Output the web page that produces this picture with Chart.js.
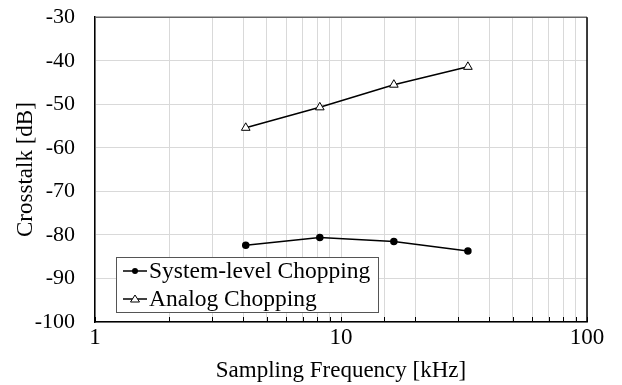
<!DOCTYPE html>
<html>
<head>
<meta charset="utf-8">
<script src="https://cdn.jsdelivr.net/npm/chart.js@4"></script>
<style>
  html, body { margin: 0; padding: 0; background: #fff; }
  #wrap { width: 622px; height: 385px; }
</style>
</head>
<body>
<div id="wrap"><canvas id="crosstalkChart"></canvas></div>
<script>
const freqKHz = [4.1, 8.2, 16.4, 32.8];
const systemChopping = [-82.4, -80.6, -81.5, -83.7];
const analogChopping = [-55.4, -50.7, -45.5, -41.4];
const xLabels = [1, 10, 100];
const yMin = -100, yMax = -30, yStep = 10;

const FONT = "'Liberation Serif', 'Times New Roman', serif";

function toPoints(xs, ys) {
    return xs.map((x, i) => ({ x: x, y: ys[i] }));
}

// frame, inner minor ticks and the boxed legend
const framePlugin = {
    id: 'frame',
    afterDatasetsDraw(chart) {
        const ctx = chart.ctx;
        const a = chart.chartArea;
        const xs = chart.scales.x;
        ctx.save();
        // inner tick marks on bottom axis
        ctx.strokeStyle = '#000';
        ctx.lineWidth = 1;
        xs.ticks.forEach(t => {
            const px = Math.round(xs.getPixelForValue(t.value)) + 0.5;
            ctx.beginPath();
            ctx.moveTo(px, a.bottom);
            ctx.lineTo(px, a.bottom - 5);
            ctx.stroke();
        });
        // top and right border
        ctx.lineWidth = 1.5;
        ctx.strokeStyle = '#666';
        ctx.beginPath();
        ctx.moveTo(a.left, a.top);
        ctx.lineTo(a.right, a.top);
        ctx.stroke();
        ctx.strokeStyle = '#000';
        ctx.beginPath();
        ctx.moveTo(a.right, a.top);
        ctx.lineTo(a.right, a.bottom);
        ctx.stroke();

        // legend box
        const bx = 116, by = 257, bw = 262, bh = 55;
        ctx.fillStyle = '#fff';
        ctx.fillRect(bx, by, bw, bh);
        ctx.strokeStyle = '#555';
        ctx.lineWidth = 1;
        ctx.strokeRect(bx + 0.5, by + 0.5, bw, bh);
        const rows = [by + 14, by + 42];
        chart.data.datasets.forEach((ds, i) => {
            const cy = rows[i];
            ctx.strokeStyle = '#000';
            ctx.lineWidth = 1.5;
            ctx.beginPath();
            ctx.moveTo(123, cy);
            ctx.lineTo(147, cy);
            ctx.stroke();
            if (ds.pointStyle === 'triangle') {
                ctx.fillStyle = '#fff';
                ctx.lineWidth = 1;
                ctx.beginPath();
                ctx.moveTo(135, cy - 4);
                ctx.lineTo(139.5, cy + 3);
                ctx.lineTo(130.5, cy + 3);
                ctx.closePath();
                ctx.fill();
                ctx.stroke();
            } else {
                ctx.fillStyle = '#000';
                ctx.beginPath();
                ctx.arc(135, cy, 3, 0, Math.PI * 2);
                ctx.fill();
            }
            ctx.fillStyle = '#000';
            ctx.font = '23.5px ' + FONT;
            ctx.textBaseline = 'middle';
            ctx.textAlign = 'left';
            ctx.fillText(ds.label, 149, cy + 1);
        });
        ctx.restore();
    }
};

new Chart(document.getElementById('crosstalkChart').getContext('2d'), {
    type: 'line',
    data: {
        datasets: [
            {
                label: 'System-level Chopping',
                data: toPoints(freqKHz, systemChopping),
                borderColor: '#000',
                backgroundColor: '#000',
                borderWidth: 1.5,
                pointStyle: 'circle',
                pointRadius: 3,
                fill: false,
            },
            {
                label: 'Analog Chopping',
                data: toPoints(freqKHz, analogChopping),
                borderColor: '#000',
                backgroundColor: '#fff',
                borderWidth: 1.5,
                pointStyle: 'triangle',
                pointRadius: 5,
                pointBorderWidth: 1,
                fill: false,
            }
        ]
    },
    options: {
        responsive: true,
        maintainAspectRatio: false,
        animation: false,
        layout: { padding: { top: 0, right: 35, left: 0, bottom: 0 } },
        scales: {
            x: {
                type: 'logarithmic',
                min: 1,
                max: 100,
                afterFit(scale) { scale.height = 63; },
                grid: { color: '#d9d9d9', lineWidth: 1, drawTicks: false },
                border: { color: '#000', width: 1.5 },
                ticks: {
                    autoSkip: false,
                    maxRotation: 0,
                    padding: 2,
                    color: '#000',
                    font: { family: FONT, size: 23 },
                    callback: v => xLabels.includes(v) ? String(v) : ''
                },
                title: {
                    display: true,
                    text: 'Sampling Frequency [kHz]',
                    color: '#000',
                    font: { family: FONT, size: 23 },
                    padding: { top: 4, bottom: 0 }
                }
            },
            y: {
                min: yMin,
                max: yMax,
                afterFit(scale) { scale.width = 95; },
                grid: {
                    color: '#d9d9d9',
                    lineWidth: 1,
                    drawTicks: true,
                    tickLength: 16,
                    tickColor: 'rgba(0,0,0,0)'
                },
                border: { color: '#000', width: 1.5 },
                ticks: {
                    stepSize: yStep,
                    padding: 4,
                    color: '#000',
                    font: { family: FONT, size: 22 }
                },
                title: {
                    display: true,
                    text: 'Crosstalk [dB]',
                    color: '#000',
                    font: { family: FONT, size: 23 },
                    padding: { top: 12, bottom: 0 }
                }
            }
        },
        plugins: {
            legend: { display: false },
            tooltip: { enabled: false }
        }
    },
    plugins: [framePlugin]
});
</script>
</body>
</html>
